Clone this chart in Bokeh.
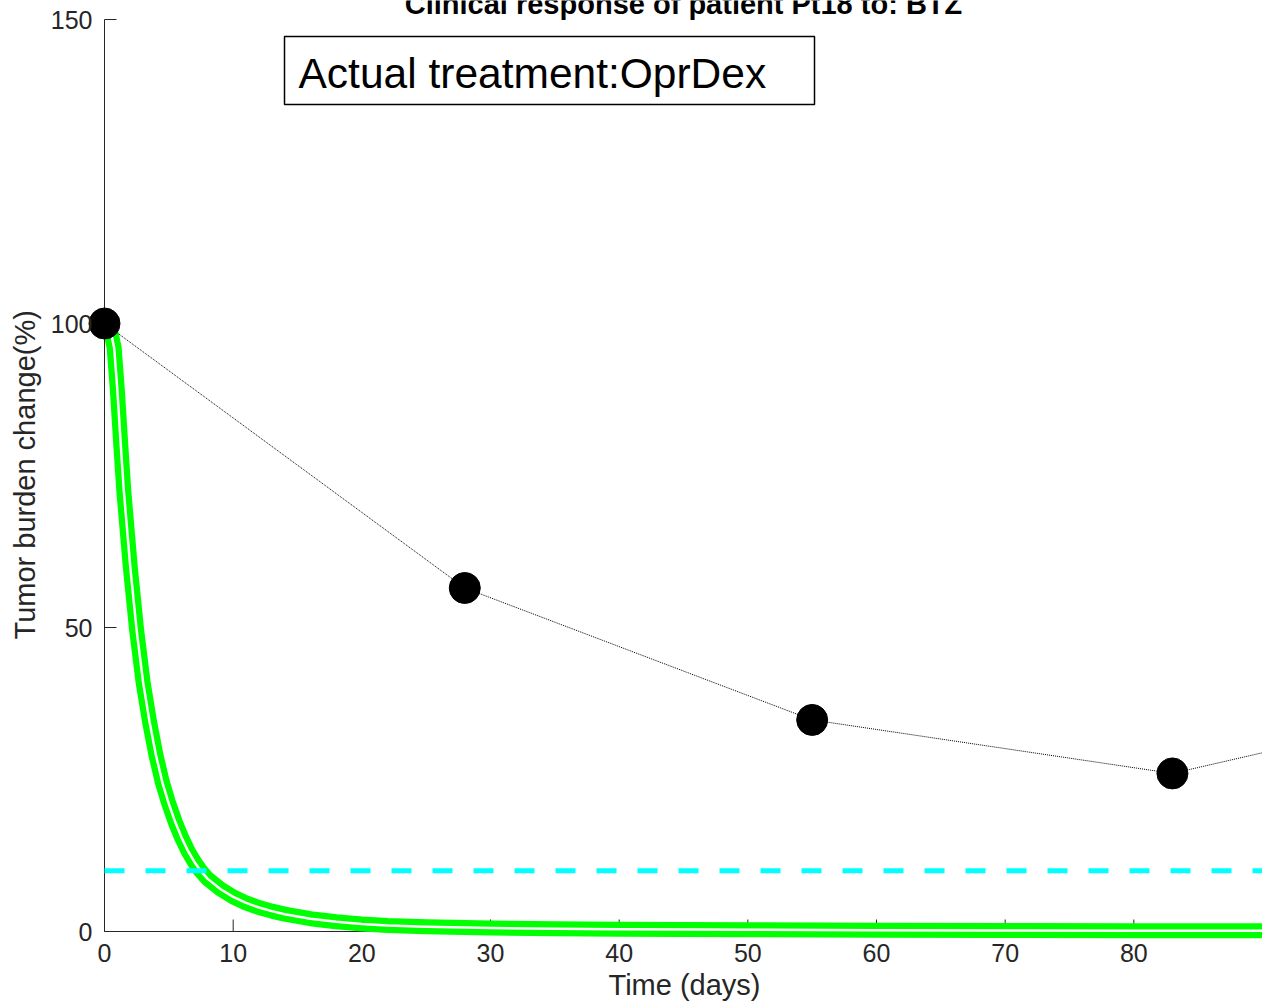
import math
from bokeh.plotting import figure
from bokeh.models import Range1d, FixedTicker, Label, BoxAnnotation, Title
from bokeh.embed import file_html
from bokeh.resources import INLINE

# ---------------- data ----------------
title_text = "Clinical response of patient Pt18 to: BTZ"
treatment_text = "Actual treatment:OprDex"
x_label = "Time (days)"
y_label = "Tumor burden change(%)"

obs_days = [0, 28, 55, 83, 111]
obs_burden = [100, 56.5, 34.8, 26.0, 39.6]

model_days = [0, 0.5, 0.75, 1, 1.25, 1.5, 2, 2.5, 3, 3.5, 4, 4.5, 5, 5.5, 6, 6.5,
              7, 7.5, 8, 9, 10, 11, 12, 13, 14, 16, 18, 20, 22, 25, 30, 35, 40,
              50, 60, 70, 80, 90]
model_burden = [100, 98.5, 96, 89, 80.5, 72.5, 60, 49.5, 41, 34.5, 29, 24.5,
                21, 18, 15.4, 13.2, 11.4, 9.9, 8.7, 7.0, 5.7, 4.7, 3.95, 3.35,
                2.85, 2.1, 1.6, 1.25, 1.0, 0.78, 0.58, 0.46, 0.38, 0.28, 0.22,
                0.17, 0.14, 0.12]

threshold = 10
x_ticks = [0, 10, 20, 30, 40, 50, 60, 70, 80]
y_ticks = [0, 50, 100, 150]
x_max = 90
y_max = 150

# ---------------- style ----------------
FONT = "Liberation Sans"
AX = "#262626"
PX_PER_X = 1158 / 90.0
PX_PER_Y = 912 / 150.0
Y0_PX = 931  # pixel row of y = 0
X0_PX = 104  # pixel column of x = 0

# frame extends a little past the axes so edge marks are not clipped
p = figure(width=1262, height=1008,
           x_range=Range1d(-1.4, x_max),
           y_range=Range1d(-1.48, y_max + 19 / PX_PER_Y),
           output_backend="svg", toolbar_location=None, title=None,
           min_border_left=86, min_border_right=0,
           min_border_top=0, min_border_bottom=68)
p.outline_line_color = None
p.grid.visible = False
p.background_fill_color = "white"
p.border_fill_color = "white"

p.xaxis.ticker = FixedTicker(ticks=x_ticks)
p.yaxis.ticker = FixedTicker(ticks=y_ticks)
for ax in p.axis:
    ax.axis_line_color = None
    ax.major_tick_line_color = None
    ax.minor_tick_line_color = None
    ax.major_tick_in = 0
    ax.major_tick_out = 0
    ax.major_label_text_font = FONT
    ax.major_label_text_font_size = "25px"
    ax.major_label_text_color = AX
p.yaxis.major_label_standoff = -6
p.xaxis.major_label_standoff = 3

# axis titles (placed to be centred on the axes, not on the slightly larger frame)
p.add_layout(Title(text=x_label, align="left", offset=522, standoff=4,
                   text_font=FONT, text_font_size="29px", text_font_style="normal",
                   text_color=AX), "below")
p.add_layout(Title(text=y_label, align="left", offset=301, standoff=13,
                   text_font=FONT, text_font_size="29px", text_font_style="normal",
                   text_color=AX), "left")

# axis lines and inward ticks (MATLAB style, box off)
p.segment(x0=[0, 0], y0=[0, 0], x1=[0, x_max], y1=[y_max, 0], color=AX, line_width=1)
p.ray(x=x_ticks, y=[0] * len(x_ticks), length=12, length_units="screen",
      angle=math.pi / 2, color=AX, line_width=1)
p.ray(x=[0] * len(y_ticks), y=y_ticks, length=12, length_units="screen",
      angle=0, color=AX, line_width=1)

# model curve: thick green with white core
p.line(model_days, model_burden, color="#00ff00", line_width=15, line_join="round")
p.line(model_days, model_burden, color="white", line_width=2.5, line_join="round")

# threshold
p.line([0, x_max], [threshold, threshold], color="#00ffff", line_width=5, line_dash="20 21")

# observed
p.line(obs_days, obs_burden, color="black", line_width=1, line_dash="1 1")
p.scatter(obs_days, obs_burden, size=31, color="black")

# annotation box
p.add_layout(BoxAnnotation(left=(284 - X0_PX) / PX_PER_X, right=(814 - X0_PX) / PX_PER_X,
                           top=(Y0_PX - 36) / PX_PER_Y, bottom=(Y0_PX - 104) / PX_PER_Y,
                           fill_color=None, fill_alpha=0, line_color="black",
                           line_alpha=1.0, line_width=1.5))
# text baselines given as pixel rows; 'middle' anchor sits 0.35 em above baseline
p.add_layout(Label(x=(298 - X0_PX) / PX_PER_X, y=(Y0_PX - (88 - 0.35 * 42.5)) / PX_PER_Y,
                   text=treatment_text,
                   text_font=FONT, text_font_size="42.5px", text_color="black",
                   text_align="left", text_baseline="middle"))

# title (partially cut at the top, as in the reference)
p.add_layout(Label(x=x_max / 2, y=(Y0_PX - (14 - 0.35 * 29)) / PX_PER_Y, text=title_text,
                   text_font=FONT, text_font_size="29px", text_font_style="bold",
                   text_color="black", text_align="center", text_baseline="middle"))

open("out.html", "w").write(file_html(p, INLINE, "Clinical response"))
